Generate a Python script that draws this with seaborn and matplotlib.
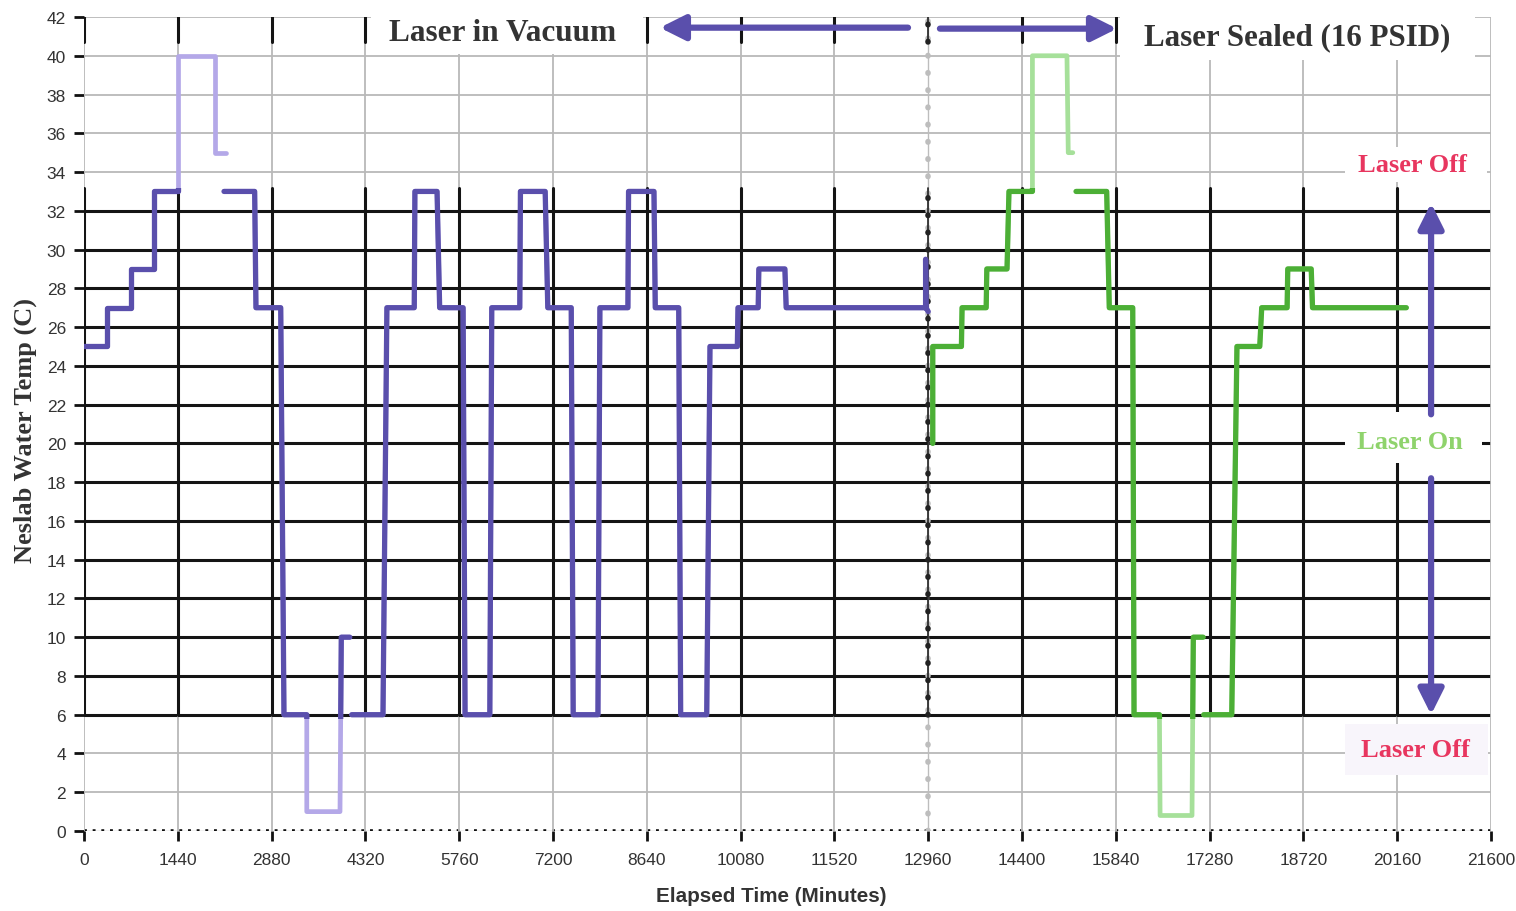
import numpy as np
import pandas as pd
import seaborn as sns
import matplotlib.pyplot as plt
from matplotlib.patches import Rectangle

# Neslab water temperature, vacuum run (purple) and sealed run (green)
# NaN marks a break in the trace
vac_min = [0, 360, 360, 720, 720, 1080, 1080, 1440, 1440, 2010, 2010, 2180, np.nan,
           2150, 2620, 2640, 3020, 3070, 3420, 3420, 3930, 3950, 4080, np.nan,
           4110, 4590, 4650, 5070, 5080, 5420, 5460, 5820, 5850, 6230, 6260, 6690, 6700,
           7080, 7120, 7480, 7510, 7890, 7920, 8350, 8360, 8750, 8770, 9130, 9160,
           9560, 9610, 10030, 10040, 10350, 10360, 10760, 10780, 12920, 12920, 12925, 12960]
vac_temp = [25, 25, 27, 27, 29, 29, 33, 33, 40, 40, 35, 35, np.nan,
            33, 33, 27, 27, 6, 6, 1, 1, 10, 10, np.nan,
            6, 6, 27, 27, 33, 33, 27, 27, 6, 6, 27, 27, 33,
            33, 27, 27, 6, 6, 27, 27, 33, 33, 27, 27, 6,
            6, 25, 25, 27, 27, 29, 29, 27, 27, 29.5, 27, 26.8]

seal_min = [13030, 13030, 13470, 13480, 13850, 13860, 14170, 14200, 14560, 14560, 15090, 15110, 15180, np.nan,
            15230, 15700, 15740, 16100, 16120, 16510, 16520, 17010, 17030, 17180, np.nan,
            17190, 17620, 17700, 18050, 18080, 18470, 18480, 18840, 18860, 20300]
seal_temp = [20, 25, 25, 27, 27, 29, 29, 33, 33, 40, 40, 35, 35, np.nan,
             33, 33, 27, 27, 6, 6, 0.8, 0.8, 10, 10, np.nan,
             6, 6, 25, 25, 27, 27, 29, 29, 27, 27]

x_ticks = list(range(0, 21601, 1440))
y_ticks = list(range(0, 43, 2))
switch_min = 12960          # vacuum -> sealed
band_lo, band_hi = 6, 33.2  # laser on window

PURPLE, PURPLE_LT = "#5a4fac", "#b4a8e8"
GREEN, GREEN_LT = "#4caf36", "#a6e09a"


def to_frame(mins, temps):
    df = pd.DataFrame({"min": mins, "temp": temps})
    df["seg"] = df["min"].isna().cumsum()
    return df.dropna()


sns.set_style("white")
plt.rcParams["font.family"] = ["Liberation Sans", "DejaVu Sans"]

fig = plt.figure(figsize=(15.16, 9.12), dpi=100)
ax = fig.add_axes([84 / 1516, 1 - 832 / 912, 1407 / 1516, 814 / 912])
ax.set_xlim(0, 21600)
ax.set_ylim(0, 42)
for s in ax.spines.values():
    s.set_visible(False)

# grid: black inside the laser-on band, light grey outside
for y in y_ticks:
    if y == 0:
        ax.plot([0, 21600], [0, 0], color="#222", lw=0.8, zorder=1)
        ax.plot([0, 21600], [0, 0], color="#111", lw=2.6, ls=(0, (0.8, 1.6)), zorder=1)
    elif band_lo <= y <= band_hi:
        ax.plot([0, 21600], [y, y], color="#141414", lw=2.2, zorder=1)
    else:
        ax.plot([0, 21600], [y, y], color="#b9b9b9", lw=1.3, zorder=1)
for x in x_ticks:
    if x == switch_min:
        continue
    ax.plot([x, x], [0, 42], color="#b9b9b9", lw=1.3, zorder=1)
    if x < 21600:
        ax.plot([x, x], [band_lo, band_hi], color="#141414", lw=2.2, zorder=1)
        ax.plot([x, x], [40.7, 42], color="#141414", lw=2.2, zorder=1)

# switch-over marker line
ax.plot([switch_min] * 2, [0, 42], color="#bdbdbd", lw=1, zorder=2)
ax.plot([switch_min] * 2, [0, 42], color="#bdbdbd", lw=4, ls=(0, (0.1, 3)),
        solid_capstyle="round", dash_capstyle="round", zorder=2)
for lo, hi in [(band_lo, band_hi), (40.7, 42)]:
    ax.plot([switch_min] * 2, [lo, hi], color="#222", lw=1.2, zorder=2)
    ax.plot([switch_min] * 2, [lo, hi], color="#222", lw=4, ls=(0, (0.1, 3)),
            dash_capstyle="round", zorder=2)

# traces: pale everywhere, saturated where they sit inside the band
band_clip = Rectangle((0, band_lo - 0.2), 21600, band_hi - band_lo + 0.2, transform=ax.transData)
for mins, temps, dark, light in [(vac_min, vac_temp, PURPLE, PURPLE_LT),
                                 (seal_min, seal_temp, GREEN, GREEN_LT)]:
    df = to_frame(mins, temps)
    sns.lineplot(data=df, x="min", y="temp", units="seg", estimator=None, sort=False,
                 color=light, lw=3.4, ax=ax, zorder=3)
    n = len(ax.lines)
    sns.lineplot(data=df, x="min", y="temp", units="seg", estimator=None, sort=False,
                 color=dark, lw=3.8, ax=ax, zorder=4)
    for ln in ax.lines[n:]:
        ln.set_clip_path(band_clip)

# white label boxes laid over the grid
for x0, y0, w, h, fc in [(4400, 40.1, 4180, 2.3, "white"),
                         (15900, 39.8, 5450, 2.5, "white"),
                         (19360, 33.5, 2180, 1.8, "white"),
                         (19360, 19.0, 2100, 2.6, "white"),
                         (19360, 2.9, 2200, 2.6, "#f8f5fb")]:
    ax.add_patch(Rectangle((x0, y0), w, h, facecolor=fc, edgecolor="none", zorder=5, clip_on=False))

serif = ["Liberation Serif", "DejaVu Serif"]
ax.text(6420, 41.2, "Laser in Vacuum", family=serif, weight="bold", fontsize=22.5,
        color="#333", ha="center", va="center", zorder=6)
ax.text(18620, 41.0, "Laser Sealed (16 PSID)", family=serif, weight="bold", fontsize=22.3,
        color="#333", ha="center", va="center", zorder=6)
ax.text(20390, 34.4, "Laser Off", family=serif, weight="bold", fontsize=19,
        color="#e8365f", ha="center", va="center", zorder=6)
ax.text(20360, 20.1, "Laser On", family=serif, weight="bold", fontsize=19,
        color="#8fd36c", ha="center", va="center", zorder=6)
ax.text(20440, 4.2, "Laser Off", family=serif, weight="bold", fontsize=19,
        color="#e8365f", ha="center", va="center", zorder=6)

arrow = dict(arrowstyle="-|>", color=PURPLE, lw=4.5, mutation_scale=38, shrinkA=0, shrinkB=0)
ax.annotate("", xy=(8840, 41.45), xytext=(12650, 41.45), arrowprops=arrow, zorder=6)
ax.annotate("", xy=(15860, 41.4), xytext=(13140, 41.4), arrowprops=arrow, zorder=6)
ax.annotate("", xy=(20680, 32.4), xytext=(20680, 21.5), arrowprops=arrow, zorder=6)
ax.annotate("", xy=(20680, 6.0), xytext=(20680, 18.2), arrowprops=arrow, zorder=6)

ax.set_xticks(x_ticks)
ax.set_yticks(y_ticks)
ax.tick_params(axis="both", which="major", labelsize=12.5, labelcolor="#333",
               color="#111", width=2, length=7, direction="out")
ax.tick_params(axis="x", pad=8)
ax.tick_params(axis="y", pad=6)
ax.xaxis.set_ticks_position("bottom")
ax.yaxis.set_ticks_position("left")
ax.set_xlabel("")
ax.set_ylabel("")

fig.text(0.0165, 0.528, "Neslab Water Temp (C)", family=serif, weight="bold",
         fontsize=19, color="#333", rotation=90, ha="center", va="center")
fig.text(0.509, 0.0165, "Elapsed Time (Minutes)", weight="bold", fontsize=14.9,
         color="#333", ha="center", va="center")

fig.savefig("out.png", dpi=100)
